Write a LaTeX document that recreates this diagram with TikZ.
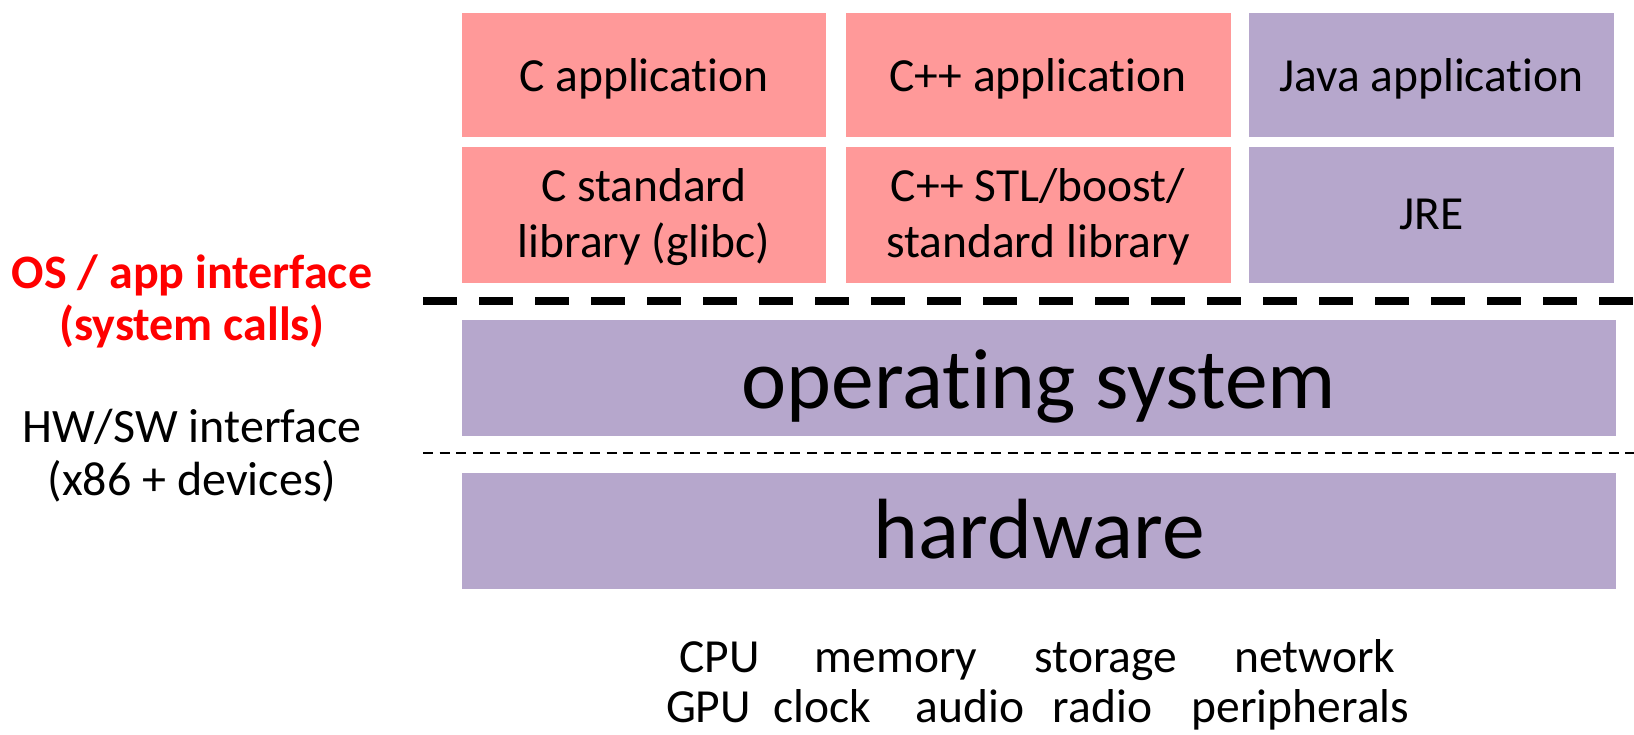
\documentclass[tikz,border=0pt]{standalone}
\usepackage{fontspec}
\setmainfont{Carlito}[Ligatures={TeX,NoCommon}]
\definecolor{appRed}{RGB}{255,153,153}
\definecolor{layerPurple}{RGB}{182,167,204}
\definecolor{ifaceRed}{RGB}{255,0,0}

\begin{document}
\begin{tikzpicture}[x=1pt,y=-1pt,
    redbox/.style={fill=appRed,inner sep=0pt,align=center,font=\fontsize{47.5}{56}\selectfont},
    purplebox/.style={fill=layerPurple,inner sep=0pt,align=center,font=\fontsize{47.5}{56}\selectfont},
    layerbox/.style={fill=layerPurple,inner sep=0pt,minimum width=1154,minimum height=116,font=\fontsize{85.5}{100}\selectfont},
    sidelabel/.style={anchor=base,align=center,font=\fontsize{48}{52.5}\selectfont},
    hwword/.style={anchor=base,font=\fontsize{47.5}{56}\selectfont}]
    \useasboundingbox (0,0) rectangle (1634,735);

    % applications
    \node[redbox,minimum width=364,minimum height=124,text height=40,text depth=7] (capp) at (644,75) {C application};
    \node[redbox,minimum width=385,minimum height=124,text height=40,text depth=7] (cppapp) at (1038,75) {C++ application};
    \node[purplebox,minimum width=365,minimum height=124,text height=40,text depth=7] (javaapp) at (1431.5,75) {Java application};

    % libraries
    \node[redbox,minimum width=364,minimum height=136,text height=90,text depth=4] (clib) at (644,215) {C standard\\library (glibc)};
    \node[redbox,minimum width=385,minimum height=136,text height=90,text depth=4] (cpplib) at (1038,215) {C++ STL/boost/\\standard library};
    \node[purplebox,minimum width=365,minimum height=136,text height=45,text depth=15] (jre) at (1431.5,215) {JRE};

    % system call boundary
    \draw[line width=8pt,dash pattern=on 34pt off 22pt] (423,301) -- (1634,301);

    % operating system and hardware
    \node[layerbox,text height=70,text depth=10] (os) at (1039,378) {operating system};
    \draw[line width=2pt,dash pattern=on 10pt off 6.7pt] (423,453) -- (1634,453);
    \node[layerbox,text height=65,text depth=10] (hw) at (1039,530.5) {hardware};

    % interface labels
    \node[sidelabel,text=ifaceRed,font=\fontsize{48}{52.5}\selectfont\bfseries] (apiLabel) at (192,341) {OS / app interface\\(system calls)};
    \node[sidelabel] (hwswLabel) at (192,495) {HW/SW interface\\(x86 + devices)};

    % hardware parts
    \foreach \part/\px in {CPU/719.5,memory/896,storage/1106,network/1315}
        \node[hwword] (hw-\part) at (\px,672) {\part};
    \foreach \part/\px in {GPU/708.5,clock/822.5,audio/970,radio/1102.5,peripherals/1300.5}
        \node[hwword] (hw-\part) at (\px,722) {\part};
\end{tikzpicture}
\end{document}
